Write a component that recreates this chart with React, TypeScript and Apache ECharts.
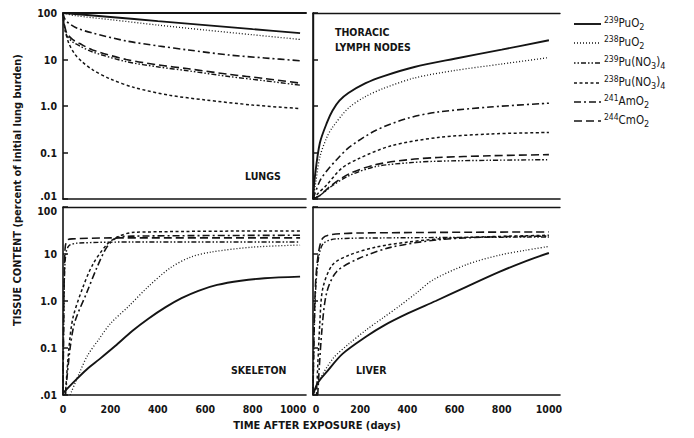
import React, { useEffect, useRef } from "react";
import * as echarts from "echarts";

// ---------- labels ----------
const SPECIES = ["239PuO2", "238PuO2", "239Pu(NO3)4", "238Pu(NO3)4", "241AmO2", "244CmO2"];
const PANEL_TITLES = ["LUNGS", "THORACIC\nLYMPH NODES", "SKELETON", "LIVER"];
const X_TICKS = [0, 200, 400, 600, 800, 1000];
const Y_TICK_LABELS: Record<string, string> = { "2": "100", "1": "10", "0": "1.0", "-1": "0.1", "-2": ".01" };
const Y_TITLE = "TISSUE CONTENT (percent of initial lung burden)";
const X_TITLE = "TIME AFTER EXPOSURE (days)";

// ---------- data: [day, % of initial lung burden] ----------
// LUNGS
const LUNGS_239PUO2 = [[0, 100], [200, 82], [400, 67], [600, 55], [800, 45], [1000, 37]];
const LUNGS_238PUO2 = [[0, 100], [50, 88], [200, 72], [400, 55], [600, 43], [800, 34], [1000, 27]];
const LUNGS_239NIT = [[0, 100], [3, 65], [8, 45], [17, 32], [40, 24], [71, 19.5], [125, 14.5], [267, 9], [404, 6.9], [529, 5.7], [700, 4.3], [850, 3.5], [1000, 2.8]];
const LUNGS_238NIT = [[0, 100], [3, 65], [10, 40], [25, 22], [50, 13], [80, 9], [125, 6], [200, 3.8], [300, 2.5], [450, 1.7], [600, 1.35], [800, 1.05], [1000, 0.88]];
const LUNGS_241AMO2 = [[0, 100], [5, 80], [15, 66], [29, 58], [60, 47], [125, 37], [267, 25], [404, 19.5], [529, 16], [700, 12.5], [850, 10.8], [1000, 9.4]];
const LUNGS_244CMO2 = [[0, 100], [3, 70], [8, 50], [17, 36], [40, 27], [71, 22], [125, 16], [267, 10], [404, 7.6], [529, 6.3], [700, 4.8], [850, 3.9], [1000, 3.1]];
// THORACIC LYMPH NODES
const LYMPH_239PUO2 = [[0, 0.01], [8, 0.03], [29, 0.16], [60, 0.45], [83, 0.8], [112, 1.3], [150, 1.9], [223, 3.1], [300, 4.4], [430, 6.9], [600, 10.4], [800, 16.3], [1000, 26]];
const LYMPH_238PUO2 = [[0, 0.01], [10, 0.02], [29, 0.08], [60, 0.22], [83, 0.35], [150, 0.9], [223, 1.6], [300, 2.4], [430, 4], [600, 5.8], [800, 8], [1000, 11]];
const LYMPH_239NIT = [[0, 0.01], [30, 0.012], [80, 0.019], [154, 0.032], [267, 0.05], [404, 0.06], [529, 0.065], [750, 0.068], [1000, 0.07]];
const LYMPH_238NIT = [[0, 0.01], [20, 0.013], [58, 0.02], [120, 0.045], [196, 0.075], [333, 0.14], [529, 0.21], [750, 0.25], [1000, 0.27]];
const LYMPH_241AMO2 = [[0, 0.01], [30, 0.025], [58, 0.04], [100, 0.07], [154, 0.13], [267, 0.3], [404, 0.55], [529, 0.74], [750, 0.95], [1000, 1.15]];
const LYMPH_244CMO2 = [[0, 0.01], [30, 0.012], [80, 0.02], [154, 0.035], [267, 0.055], [404, 0.07], [529, 0.078], [750, 0.085], [1000, 0.09]];
// SKELETON
const SKEL_239PUO2 = [[0, 0.011], [50, 0.02], [100, 0.035], [154, 0.058], [220, 0.11], [292, 0.23], [360, 0.42], [433, 0.74], [500, 1.15], [571, 1.65], [650, 2.2], [750, 2.7], [850, 3.05], [1000, 3.3]];
const SKEL_238PUO2 = [[30, 0.01], [70, 0.03], [104, 0.07], [150, 0.15], [200, 0.33], [280, 0.8], [354, 1.9], [451, 5], [536, 8.5], [625, 11], [800, 14], [1000, 15.5]];
const SKEL_239NIT = [[0, 0.01], [3, 0.3], [6, 3], [12, 10], [25, 15], [60, 17], [300, 18], [1000, 18]];
const SKEL_238NIT = [[10, 0.01], [25, 0.1], [42, 0.44], [83, 1.9], [125, 5.9], [183, 15.5], [229, 23], [300, 29], [1000, 31]];
const SKEL_241AMO2 = [[10, 0.01], [30, 0.1], [50, 0.36], [100, 1.5], [142, 5], [183, 13.5], [225, 22], [300, 24], [1000, 25]];
const SKEL_244CMO2 = [[0, 0.01], [3, 0.5], [6, 5], [10, 15], [20, 20], [40, 21], [200, 22], [1000, 22]];
// LIVER
const LIVER_239PUO2 = [[0, 0.01], [20, 0.018], [58, 0.031], [125, 0.075], [229, 0.18], [300, 0.3], [404, 0.55], [520, 1.0], [650, 2.0], [792, 4.2], [900, 7], [1000, 10.5]];
const LIVER_238PUO2 = [[0, 0.01], [30, 0.022], [85, 0.06], [150, 0.12], [229, 0.25], [300, 0.45], [369, 0.8], [440, 1.5], [508, 2.8], [653, 6], [792, 9.5], [900, 12], [1000, 14.5]];
const LIVER_239NIT = [[0, 0.01], [5, 0.2], [12, 2], [25, 9], [45, 17], [100, 21], [300, 22], [1000, 23]];
const LIVER_238NIT = [[15, 0.01], [29, 0.35], [42, 1.9], [83, 5.9], [154, 9.5], [267, 14], [404, 18], [600, 22], [1000, 25]];
const LIVER_241AMO2 = [[20, 0.01], [37, 0.22], [58, 1.5], [100, 4.2], [196, 8.1], [333, 14], [529, 20], [750, 23], [1000, 24]];
const LIVER_244CMO2 = [[0, 0.01], [5, 0.3], [12, 3], [25, 12], [42, 22], [80, 26], [200, 28], [1000, 29.5]];

const PANEL_DATA = [
  [LUNGS_239PUO2, LUNGS_238PUO2, LUNGS_239NIT, LUNGS_238NIT, LUNGS_241AMO2, LUNGS_244CMO2],
  [LYMPH_239PUO2, LYMPH_238PUO2, LYMPH_239NIT, LYMPH_238NIT, LYMPH_241AMO2, LYMPH_244CMO2],
  [SKEL_239PUO2, SKEL_238PUO2, SKEL_239NIT, SKEL_238NIT, SKEL_241AMO2, SKEL_244CMO2],
  [LIVER_239PUO2, LIVER_238PUO2, LIVER_239NIT, LIVER_238NIT, LIVER_241AMO2, LIVER_244CMO2],
];

// ---------- styles ----------
const INK = "#141414";
const FONT = "'DejaVu Sans Condensed', 'DejaVu Sans', sans-serif";
const LINE_STYLES: any[] = [
  { type: "solid", width: 1.9 },
  { type: [1, 2], width: 1.3 },
  { type: [1.5, 2, 1.5, 2, 5, 2], width: 1.4 },
  { type: [3, 2.5], width: 1.5 },
  { type: [7, 3, 2, 3], width: 1.6 },
  { type: [8, 4], width: 1.6 },
];
const LEGEND_RICH = [
  "{sup|239}{m|PuO}{sub|2}",
  "{sup|238}{m|PuO}{sub|2}",
  "{sup|239}{m|Pu(NO}{sub|3}{m|)}{sub|4}",
  "{sup|238}{m|Pu(NO}{sub|3}{m|)}{sub|4}",
  "{sup|241}{m|AmO}{sub|2}",
  "{sup|244}{m|CmO}{sub|2}",
];

const GRIDS = [
  { left: 63, top: 13, width: 243, height: 186, max: 1025 },
  { left: 313, top: 13, width: 247, height: 186, max: 1047 },
  { left: 63, top: 207, width: 243, height: 188, max: 1025 },
  { left: 313, top: 207, width: 247, height: 188, max: 1047 },
];

export default function App() {
  const ref = useRef<HTMLDivElement>(null);
  useEffect(() => {
    if (!ref.current) return;
    const chart = echarts.init(ref.current, null, { renderer: "svg" });

    const xAxis: any[] = [];
    const yAxis: any[] = [];
    GRIDS.forEach((g, i) => {
      xAxis.push({
        type: "value", gridIndex: i, min: 0, max: g.max, interval: 200, position: "bottom",
        axisLine: { show: true, lineStyle: { color: INK, width: 1.6 } },
        axisTick: { show: false }, splitLine: { show: false },
        axisLabel: {
          show: i >= 2, color: INK, fontFamily: FONT, fontSize: 10.5, fontWeight: "bold", margin: 8,
          showMaxLabel: false,
          formatter: (v: number) => {
            if (X_TICKS.indexOf(v) < 0) return "";
            if (i === 2 && v === 1000) return "{r|1000}";
            if (i === 3 && v === 0) return "{l|0}";
            return String(v);
          },
          rich: {
            r: { fontFamily: FONT, fontSize: 10.5, fontWeight: "bold", color: INK, padding: [0, 14, 0, 0] },
            l: { fontFamily: FONT, fontSize: 10.5, fontWeight: "bold", color: INK, padding: [0, 0, 0, 6] },
          },
        },
      });
    });
    GRIDS.forEach((g, i) => {
      xAxis.push({
        type: "value", gridIndex: i, min: 0, max: g.max, position: "top",
        axisLine: { show: true, lineStyle: { color: INK, width: i === 0 ? 2 : 1.4 } },
        axisTick: { show: false }, axisLabel: { show: false }, splitLine: { show: false },
      });
    });
    GRIDS.forEach((g, i) => {
      yAxis.push({
        type: "log", logBase: 10, gridIndex: i, min: 0.01, max: 100, position: "left",
        axisLine: { show: true, lineStyle: { color: INK, width: 1.6 } },
        axisTick: { show: true, inside: true, length: 5, lineStyle: { color: INK, width: 1.5 } },
        splitLine: { show: false },
        axisLabel: {
          show: i % 2 === 0, color: INK, fontFamily: FONT, fontSize: 10.5, fontWeight: "bold", margin: 6,
          formatter: (v: number) => {
            const k = Math.round(Math.log10(v));
            const t = Y_TICK_LABELS[String(k)] || "";
            if (i === 0 && k === -2) return `{lo|${t}}`;
            if (i === 2 && k === 2) return `{hi|${t}}`;
            return t;
          },
          rich: {
            lo: { fontFamily: FONT, fontSize: 10.5, fontWeight: "bold", color: INK, padding: [0, 0, 7, 0] },
            hi: { fontFamily: FONT, fontSize: 10.5, fontWeight: "bold", color: INK, padding: [7, 0, 0, 0] },
          },
        },
      });
    });
    yAxis.push({
      type: "log", logBase: 10, gridIndex: 1, min: 0.01, max: 100, position: "right",
      axisLine: { show: true, lineStyle: { color: INK, width: 1.4 } },
      axisTick: { show: false }, axisLabel: { show: false }, splitLine: { show: false },
    });

    const series: any[] = [];
    PANEL_DATA.forEach((panel, p) => {
      panel.forEach((data, s) => {
        series.push({
          type: "line", name: SPECIES[s], xAxisIndex: p, yAxisIndex: p, data,
          showSymbol: false, symbol: "none", smooth: 0.3,
          lineStyle: { color: INK, cap: "butt", ...LINE_STYLES[s] },
          silent: true,
        });
      });
    });

    const LEG_X = 574, LEG_W = 27;
    const LEG_Y = [24, 43, 63, 83, 102, 121];
    const graphic: any[] = [];
    SPECIES.forEach((name, i) => {
      const st = LINE_STYLES[i];
      graphic.push({
        type: "line", shape: { x1: LEG_X, y1: LEG_Y[i], x2: LEG_X + LEG_W, y2: LEG_Y[i] },
        style: { stroke: INK, lineWidth: st.width, lineDash: Array.isArray(st.type) ? st.type : null },
      });
      graphic.push({
        type: "text", x: LEG_X + LEG_W + 3, y: LEG_Y[i] - 1,
        style: {
          text: LEGEND_RICH[i], fill: INK, verticalAlign: "middle",
          rich: {
            sup: { fontSize: 8.5, fontFamily: FONT, fill: INK, verticalAlign: "top", lineHeight: 16 },
            m: { fontSize: 11.5, fontFamily: FONT, fill: INK, lineHeight: 16, verticalAlign: "middle" },
            sub: { fontSize: 9, fontFamily: FONT, fill: INK, verticalAlign: "bottom", lineHeight: 16 },
          },
        },
      });
    });
    const panelPos = [
      { x: 245, y: 176 },
      { x: 335, y: 39 },
      { x: 231, y: 370 },
      { x: 356, y: 370 },
    ];
    PANEL_TITLES.forEach((t, i) => {
      graphic.push({
        type: "text", x: panelPos[i].x, y: panelPos[i].y,
        style: { text: t, fill: INK, font: `bold 10.5px ${FONT}`, verticalAlign: "middle", lineHeight: 15 },
      });
    });
    graphic.push({
      type: "text", x: 17, y: 190, rotation: Math.PI / 2,
      style: { text: Y_TITLE, fill: INK, font: `bold 11px ${FONT}`, align: "center", verticalAlign: "middle" },
    });
    graphic.push({
      type: "text", x: 317, y: 425,
      style: { text: X_TITLE, fill: INK, font: `bold 11px ${FONT}`, align: "center", verticalAlign: "middle" },
    });

    chart.setOption({
      animation: false,
      backgroundColor: "#ffffff",
      grid: GRIDS.map((g) => ({ left: g.left, top: g.top, width: g.width, height: g.height, containLabel: false })),
      xAxis, yAxis, series, graphic,
    });
    return () => chart.dispose();
  }, []);
  return <div ref={ref} style={{ position: "fixed", left: 0, top: 0, width: 694, height: 438, background: "#fff" }} />;
}
